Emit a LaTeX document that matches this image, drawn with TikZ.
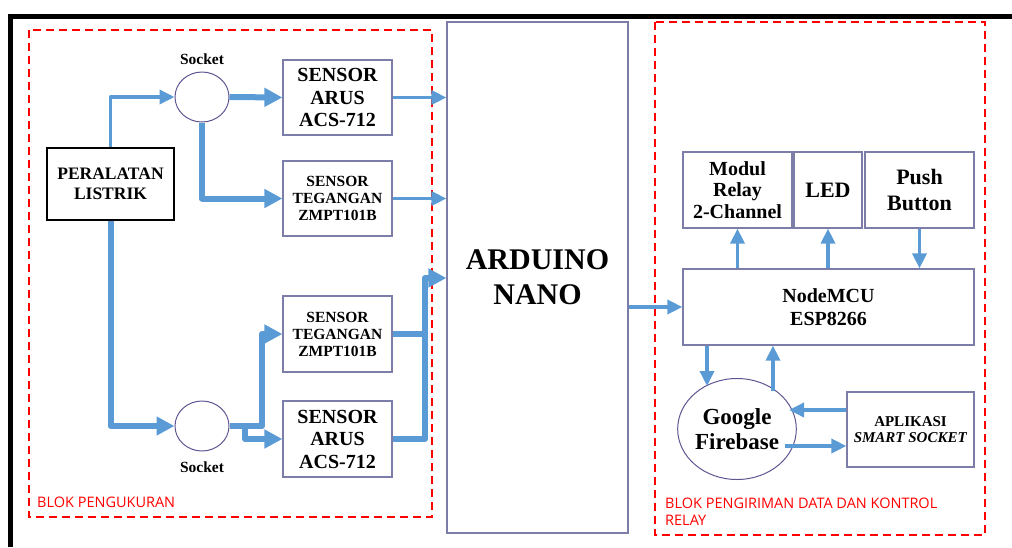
\documentclass[tikz,border=0pt]{standalone}
\usepackage{fontspec}
\setmainfont{Liberation Serif}
\newfontfamily\lblfont{Open Sans}
\usetikzlibrary{arrows.meta,shapes.geometric,calc}
\definecolor{lblue}{RGB}{91,155,213}
\definecolor{boxc}{RGB}{125,125,170}
\definecolor{circc}{RGB}{95,85,145}
\definecolor{dred}{RGB}{255,0,0}
\newcommand{\myfs}[2]{\fontsize{#1}{#2}\selectfont}
\tikzset{
  blk/.style={draw=boxc, line width=1.2pt, inner sep=0pt, align=center, font=\bfseries},
  ell/.style={ellipse, draw=circc, line width=1pt, inner sep=0pt, align=center, font=\bfseries},
  thinarr/.style={draw=lblue, line width=3.5pt, line join=round, -{Triangle[length=15pt,width=14pt]}},
  thickarr/.style={draw=lblue, line width=6pt, line join=round, -{Triangle[length=18pt,width=18pt]}},
  thickline/.style={draw=lblue, line width=6pt, line join=round},
  redbox/.style={draw=dred, line width=2.2pt, dash pattern=on 8pt off 5pt},
  redlbl/.style={text=dred, font=\lblfont\myfs{14.5}{17}, inner sep=0pt, anchor=base west, align=left},
}
\begin{document}
\begin{tikzpicture}[x=1pt,y=-1pt]
\useasboundingbox (0,0) rectangle (1012,547);
% black frame
\fill[black] (8,14) rectangle (1012,19);
\fill[black] (8,14) rectangle (13,547);
% red dashed blocks
\draw[redbox] (29,30) rectangle (432,517);
\draw[redbox] (655,22) rectangle (985,535);
\node[redlbl] (lbl1) at (37,507) {BLOK PENGUKURAN};
\node[redlbl] (lbl2) at (665,508) {BLOK PENGIRIMAN DATA DAN KONTROL};
\node[redlbl] (lbl3) at (665,525) {RELAY};

% left block
\node[blk, draw=black, minimum width=127pt, minimum height=72pt, font=\bfseries\myfs{17.5}{20}] (per) at (110.5,184) {PERALATAN\\LISTRIK};
\node[ell, minimum width=54pt, minimum height=50pt] (s1) at (202,97) {};
\node[font=\bfseries\myfs{15.5}{18}, inner sep=0pt] (s1l) at (202,59) {Socket};
\node[ell, minimum width=54pt, minimum height=50pt] (s2) at (202,426) {};
\node[font=\bfseries\myfs{15.5}{18}, inner sep=0pt] (s2l) at (202,467) {Socket};

\node[blk, minimum width=109pt, minimum height=75pt, font=\bfseries\myfs{20}{22.5}] (sa1) at (337.5,97.5) {SENSOR\\ARUS\\ACS-712};
\node[blk, minimum width=109pt, minimum height=75pt, font=\bfseries\myfs{15.5}{17}] (st1) at (337.5,198.5) {SENSOR\\TEGANGAN\\ZMPT101B};
\node[blk, minimum width=109pt, minimum height=76pt, font=\bfseries\myfs{15.5}{17}] (st2) at (337.5,334) {SENSOR\\TEGANGAN\\ZMPT101B};
\node[blk, minimum width=109pt, minimum height=76pt, font=\bfseries\myfs{20}{22.5}] (sa2) at (337.5,439) {SENSOR\\ARUS\\ACS-712};

% Arduino
\node[blk, minimum width=181pt, minimum height=511pt, font=\bfseries\myfs{30}{35}] (ard) at (537.5,277.5) {ARDUINO\\NANO};

% right block
\node[blk, minimum width=291pt, minimum height=76pt, font=\bfseries\myfs{20}{23}] (nm) at (828.5,307) {NodeMCU\\ESP8266};
\node[blk, minimum width=109pt, minimum height=76pt, font=\bfseries\myfs{20}{21.5}] (mr) at (737.5,190) {Modul\\Relay\\2-Channel};
\node[blk, minimum width=68pt, minimum height=76pt, font=\bfseries\myfs{22}{26}] (led) at (828,190) {LED};
\node[blk, minimum width=109pt, minimum height=76pt, font=\bfseries\myfs{22}{26}] (pb) at (919.5,190) {Push\\Button};
\node[ell, minimum width=109pt, minimum height=101pt, font=\bfseries\myfs{23}{25.5}] (gf) at (737,429) {Google\\Firebase};
\node[blk, minimum width=127pt, minimum height=75pt, font=\bfseries\myfs{15}{16.5}] (ap) at (910.5,429.5) {APLIKASI\\\textit{SMART SOCKET}};

% connectors left
\draw[thinarr] (per.north) |- (s1.west);
\draw[thickarr] (s1.east) -- (sa1.west);
\draw[thickarr] (s1.south) |- (st1.west);
\draw[thinarr] (sa1.east) -- (sa1.east -| ard.west);
\draw[thinarr] (st1.east) -- (st1.east -| ard.west);
\draw[thickarr] (per.south) |- (s2.west);
\coordinate (j1) at (262,334);
\coordinate (j2) at (245,426);
\coordinate (j3) at (425,278);
\draw[thickarr] (s2.east) -| (j1) -- (st2.west);
\draw[thickarr] (j2) |- (sa2.west);
\draw[thickline] (st2.east) -- (st2.east -| j3);
\draw[thickarr] (sa2.east) -| (j3) -- (j3 -| ard.west);

% connectors right
\draw[thinarr] (nm.west -| ard.east) -- (nm.west);
\draw[thinarr] (mr.south |- nm.north) -- (mr.south);
\draw[thinarr] (led.south |- nm.north) -- (led.south);
\draw[thinarr] (pb.south) -- (pb.south |- nm.north);
\coordinate (gfin) at (707,386);
\coordinate (gfout) at (773,391);
\coordinate (gfa) at (789,410);
\coordinate (gfb) at (785,446);
\draw[thinarr] (gfin |- nm.south) -- (gfin);
\draw[thinarr] (gfout) -- (gfout |- nm.south);
\draw[thinarr] (gfa -| ap.west) -- (gfa);
\draw[thinarr] (gfb) -- (gfb -| ap.west);
\end{tikzpicture}
\end{document}
